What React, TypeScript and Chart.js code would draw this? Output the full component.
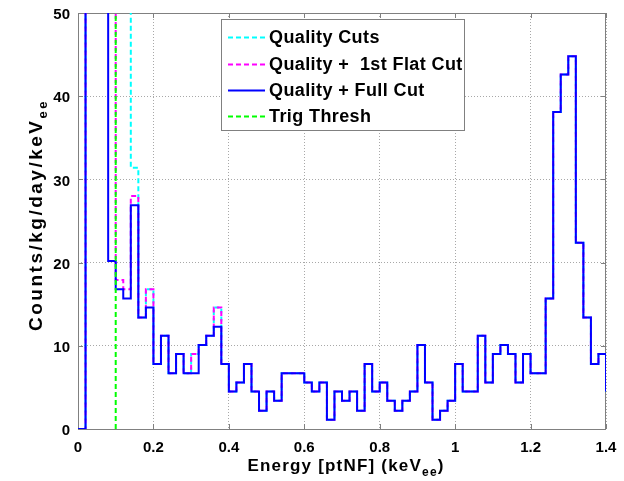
import React, { useEffect, useRef } from "react";
import { Chart, registerables } from "chart.js";

Chart.register(...registerables);

// Histogram bin starts (keVee), bin width 0.02
const binStarts = [
  0.0, 0.02, 0.04, 0.06, 0.08, 0.1, 0.12, 0.14, 0.16, 0.18,
  0.2, 0.22, 0.24, 0.26, 0.28, 0.3, 0.32, 0.34, 0.36, 0.38,
  0.4, 0.42, 0.44, 0.46, 0.48, 0.5, 0.52, 0.54, 0.56, 0.58,
  0.6, 0.62, 0.64, 0.66, 0.68, 0.7, 0.72, 0.74, 0.76, 0.78,
  0.8, 0.82, 0.84, 0.86, 0.88, 0.9, 0.92, 0.94, 0.96, 0.98,
  1.0, 1.02, 1.04, 1.06, 1.08, 1.1, 1.12, 1.14, 1.16, 1.18,
  1.2, 1.22, 1.24, 1.26, 1.28, 1.3, 1.32, 1.34, 1.36, 1.38,
  1.4,
];

// Quality + Full Cut (blue)
const fullCutValues = [
  0, 160, 160, 160, 20.2, 16.8, 15.7, 26.9, 13.4, 14.6,
  7.8, 11.2, 6.7, 9.0, 6.7, 6.7, 10.1, 11.2, 12.3, 7.8,
  4.5, 5.6, 7.8, 4.5, 2.2, 4.5, 3.4, 6.7, 6.7, 6.7,
  5.6, 4.5, 5.6, 1.1, 4.5, 3.4, 4.5, 2.2, 7.8, 4.5,
  5.6, 3.4, 2.2, 3.4, 4.5, 10.1, 5.6, 1.1, 2.2, 3.4,
  7.8, 4.5, 4.5, 11.2, 5.6, 9.0, 10.1, 9.0, 5.6, 9.0,
  6.7, 6.7, 15.7, 38.1, 42.6, 44.8, 22.4, 13.4, 7.8, 9.0,
  4.5,
];

// Quality + 1st Flat Cut (magenta)
const flatCutValues = [
  0, 160, 160, 160, 160, 17.9, 16.8, 28.0, 13.4, 16.8,
  7.8, 11.2, 6.7, 9.0, 6.7, 9.0, 10.1, 11.2, 14.6, 7.8,
  4.5, 5.6, 7.8, 4.5, 2.2, 4.5, 3.4, 6.7, 6.7, 6.7,
  5.6, 4.5, 5.6, 1.1, 4.5, 3.4, 4.5, 2.2, 7.8, 4.5,
  5.6, 3.4, 2.2, 3.4, 4.5, 10.1, 5.6, 1.1, 2.2, 3.4,
  7.8, 4.5, 4.5, 11.2, 5.6, 9.0, 10.1, 9.0, 5.6, 9.0,
  6.7, 6.7, 15.7, 38.1, 42.6, 44.8, 22.4, 13.4, 7.8, 9.0,
  4.5,
];

// Quality Cuts (cyan)
const qualityValues = [
  0, 160, 160, 160, 160, 160, 160, 31.4, 13.4, 16.8,
  7.8, 11.2, 6.7, 9.0, 6.7, 9.0, 10.1, 11.2, 14.6, 7.8,
  4.5, 5.6, 7.8, 4.5, 2.2, 4.5, 3.4, 6.7, 6.7, 6.7,
  5.6, 4.5, 5.6, 1.1, 4.5, 3.4, 4.5, 2.2, 7.8, 4.5,
  5.6, 3.4, 2.2, 3.4, 4.5, 10.1, 5.6, 1.1, 2.2, 3.4,
  7.8, 4.5, 4.5, 11.2, 5.6, 9.0, 10.1, 9.0, 5.6, 9.0,
  6.7, 6.7, 15.7, 38.1, 42.6, 44.8, 22.4, 13.4, 7.8, 9.0,
  4.5,
];

const trigThreshold = 0.1;
const trigRange = [0, 50];

const seriesLabels = ["Quality Cuts", "Quality +  1st Flat Cut", "Quality + Full Cut", "Trig Thresh"];
const xTickValues = [0, 0.2, 0.4, 0.6, 0.8, 1.0, 1.2, 1.4];
const yTickValues = [0, 10, 20, 30, 40, 50];

const FONT = "'Liberation Sans', Arial, Helvetica, sans-serif";

function toPoints(values: number[]) {
  return binStarts.map((x, i) => ({ x, y: values[i] }));
}

function drawWithSub(
  ctx: CanvasRenderingContext2D,
  main: string,
  sub: string,
  tail: string,
  cx: number,
  baseline: number,
  mainSize: number,
  subSize: number,
  spacing: number
) {
  const mf = `bold ${mainSize}px ${FONT}`;
  const sf = `bold ${subSize}px ${FONT}`;
  (ctx as any).letterSpacing = spacing + "px";
  ctx.font = mf;
  const w1 = ctx.measureText(main).width;
  const w3 = ctx.measureText(tail).width;
  ctx.font = sf;
  const w2 = ctx.measureText(sub).width;
  const start = cx - (w1 + w2 + w3) / 2;
  ctx.textAlign = "left";
  ctx.textBaseline = "alphabetic";
  ctx.fillStyle = "#000";
  ctx.font = mf;
  ctx.fillText(main, start, baseline);
  ctx.font = sf;
  ctx.fillText(sub, start + w1, baseline + 5);
  ctx.font = mf;
  ctx.fillText(tail, start + w1 + w2, baseline);
  (ctx as any).letterSpacing = "0px";
}

const framePlugin = {
  id: "frame",
  beforeDatasetsDraw(chart: any) {
    const { ctx, chartArea: a, scales } = chart;
    ctx.save();
    ctx.strokeStyle = "#808080";
    ctx.lineWidth = 1;
    ctx.setLineDash([]);
    ctx.strokeRect(a.left + 0.5, a.top + 0.5, a.right - a.left - 1, a.bottom - a.top);
    const tl = 5;
    ctx.beginPath();
    xTickValues.forEach((v) => {
      const px = Math.round(scales.x.getPixelForValue(v)) + 0.5;
      ctx.moveTo(px, a.bottom);
      ctx.lineTo(px, a.bottom - tl);
      ctx.moveTo(px, a.top);
      ctx.lineTo(px, a.top + tl);
    });
    yTickValues.forEach((v) => {
      const py = Math.round(scales.y.getPixelForValue(v)) + 0.5;
      ctx.moveTo(a.left, py);
      ctx.lineTo(a.left + tl, py);
      ctx.moveTo(a.right, py);
      ctx.lineTo(a.right - tl, py);
    });
    ctx.stroke();
    ctx.restore();
  },
  afterDraw(chart: any) {
    const { ctx } = chart;
    ctx.save();
    // axis titles
    drawWithSub(ctx, "Energy [ptNF] (keV", "ee", ")", 346, 471, 17, 12, 1.2);
    ctx.translate(42, 215);
    ctx.rotate(-Math.PI / 2);
    drawWithSub(ctx, "Counts/kg/day/keV", "ee", "", 0, 0, 19, 13, 2.5);
    ctx.restore();

    // legend
    ctx.save();
    const bx = 221.5, by = 19.5, bw = 243, bh = 111;
    ctx.fillStyle = "#fff";
    ctx.fillRect(bx, by, bw, bh);
    ctx.strokeStyle = "#808080";
    ctx.lineWidth = 1;
    ctx.strokeRect(bx, by, bw, bh);
    const rows = [37.5, 64.5, 90.5, 116.5];
    chart.data.datasets.forEach((ds: any, i: number) => {
      const y = rows[i];
      ctx.beginPath();
      ctx.strokeStyle = ds.borderColor;
      ctx.lineWidth = ds.borderWidth;
      ctx.setLineDash(ds.borderDash || []);
      ctx.moveTo(228, y);
      ctx.lineTo(265, y);
      ctx.stroke();
      ctx.setLineDash([]);
      ctx.fillStyle = "#000";
      ctx.font = `bold 18px ${FONT}`;
      (ctx as any).letterSpacing = "0.4px";
      ctx.textAlign = "left";
      ctx.textBaseline = "middle";
      ctx.fillText(ds.label, 269, y + 1);
      (ctx as any).letterSpacing = "0px";
    });
    ctx.restore();
  },
};

export default function App() {
  const canvasRef = useRef<HTMLCanvasElement | null>(null);

  useEffect(() => {
    document.body.style.margin = "0";
    const canvas = canvasRef.current;
    if (!canvas) return;
    const chart = new Chart(canvas, {
      type: "line",
      data: {
        datasets: [
          {
            label: seriesLabels[0],
            data: toPoints(qualityValues),
            borderColor: "#00ffff",
            borderWidth: 2,
            borderDash: [5, 3],
            stepped: "before",
            pointRadius: 0,
            fill: false,
            order: 3,
          },
          {
            label: seriesLabels[1],
            data: toPoints(flatCutValues),
            borderColor: "#ff00ff",
            borderWidth: 2,
            borderDash: [5, 3],
            borderDashOffset: 3,
            stepped: "before",
            pointRadius: 0,
            fill: false,
            order: 2,
          },
          {
            label: seriesLabels[2],
            data: toPoints(fullCutValues),
            borderColor: "#0000ff",
            borderWidth: 2,
            stepped: "before",
            pointRadius: 0,
            fill: false,
            order: 1,
          },
          {
            label: seriesLabels[3],
            data: [
              { x: trigThreshold, y: trigRange[0] },
              { x: trigThreshold, y: trigRange[1] },
            ],
            borderColor: "#00ff00",
            borderWidth: 2,
            borderDash: [5, 3],
            pointRadius: 0,
            fill: false,
            order: 0,
          },
        ] as any,
      },
      options: {
        responsive: false,
        animation: false,
        layout: { padding: { top: 13, right: 18, left: 0, bottom: 0 } },
        plugins: {
          legend: { display: false },
          tooltip: { enabled: false },
          title: { display: false },
        },
        scales: {
          x: {
            type: "linear",
            min: 0,
            max: 1.4,
            afterBuildTicks: (s: any) => {
              s.ticks = xTickValues.map((v) => ({ value: v }));
            },
            afterFit: (s: any) => {
              s.height = 52;
              s.paddingLeft = 0;
              s.paddingRight = 0;
            },
            ticks: {
              autoSkip: false,
              maxRotation: 0,
              padding: 10,
              color: "#000",
              font: { family: FONT, size: 15, weight: "bold" },
              callback: (v: any) => String(+Number(v).toFixed(1)),
            },
            grid: { color: "#a8a8a8", lineWidth: 1, drawTicks: false },
            border: { display: false, dash: [1, 2] },
          },
          y: {
            type: "linear",
            min: 0,
            max: 50,
            afterBuildTicks: (s: any) => {
              s.ticks = yTickValues.map((v) => ({ value: v }));
            },
            afterFit: (s: any) => {
              s.width = 78;
              s.paddingTop = 0;
              s.paddingBottom = 0;
            },
            ticks: {
              padding: 8,
              labelOffset: 2,
              color: "#000",
              font: { family: FONT, size: 15, weight: "bold" },
            },
            grid: { color: "#a8a8a8", lineWidth: 1, drawTicks: false },
            border: { display: false, dash: [1, 2] },
          },
        } as any,
      },
      plugins: [framePlugin],
    } as any);
    return () => chart.destroy();
  }, []);

  return (
    <div style={{ width: 624, height: 481 }}>
      <canvas ref={canvasRef} width={624} height={481} style={{ display: "block" }} />
    </div>
  );
}
